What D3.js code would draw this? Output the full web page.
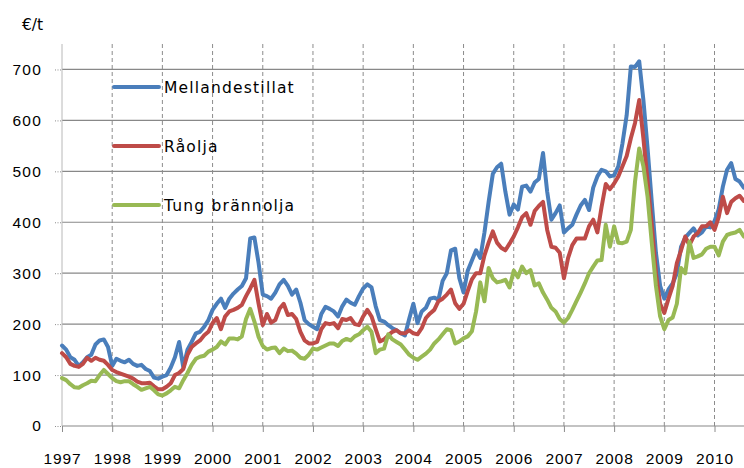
<!DOCTYPE html>
<html>
<head>
<meta charset="utf-8">
<script src="https://cdn.jsdelivr.net/npm/d3@7"></script>
<style>
  body { margin: 0; background: #fff; }
  svg { display: block; font-family: 'DejaVu Sans', sans-serif; }
</style>
</head>
<body>
<svg width="744" height="468"></svg>
<script>
const width = 744;
const height = 468;

// tick labels
const years = [1997, 1998, 1999, 2000, 2001, 2002, 2003, 2004, 2005, 2006, 2007, 2008, 2009, 2010];
const yTicks = [0, 100, 200, 300, 400, 500, 600, 700];

// monthly prices, €/t, Jan 1997 - Aug 2010
const mellandestillat = [
  158, 150, 135, 130, 118, 125, 135, 140, 160, 168, 170, 155,
  118, 132, 128, 125, 130, 122, 118, 120, 112, 108, 95, 93,
  97, 100, 115, 135, 165, 115, 150, 165, 182, 185, 195, 208,
  228, 240, 250, 232, 250, 260, 268, 275, 290, 368, 370, 320,
  258, 255, 250, 262, 278, 287, 275, 258, 268, 242, 208, 200,
  195, 190, 220, 234, 230, 225, 215, 235, 248, 242, 238, 255,
  270, 278, 272, 235, 208, 205, 198, 192, 188, 182, 178, 210,
  240, 202, 225, 232, 250, 252, 248, 285, 300, 345, 348, 290,
  262, 305, 325, 345, 330, 380, 440, 495, 508, 515, 460, 415,
  435, 425, 470, 472, 460, 478, 485, 536, 460, 405, 418, 433,
  380, 388, 395, 415, 433, 444, 424, 468, 490, 503, 500, 490,
  492, 510, 555, 610, 706, 705, 716, 640, 545, 440, 340, 275,
  250, 268, 280, 300, 352, 370, 379, 388, 374, 380, 392, 390,
  402, 425, 470, 503, 516, 485, 480, 468
];
const raolja = [
  143, 135, 122, 118, 116, 122, 134, 128, 134, 130, 128, 120,
  110, 106, 103, 100, 97, 93, 87, 84, 84, 85, 78, 72,
  72, 77, 84, 100, 104, 112, 140, 155, 162, 168, 178, 185,
  202, 212, 190, 215, 225, 228, 232, 238, 255, 270, 287, 240,
  198, 220, 203, 208, 230, 240, 218, 220, 210, 185, 168, 162,
  162, 165, 190, 202, 200, 202, 192, 210, 208, 212, 200, 198,
  215, 228, 215, 190, 166, 170, 178, 185, 188, 182, 182, 188,
  182, 180, 192, 212, 221, 228, 245, 250, 258, 268, 241, 230,
  240, 265, 288, 300, 300, 335, 360, 382, 360, 350, 345, 358,
  372, 390, 410, 418, 395, 422, 432, 440, 385, 352, 350, 340,
  290, 330, 355, 368, 368, 368, 392, 405, 380, 430, 475, 465,
  476, 490, 510, 530, 565, 595, 640, 565, 480, 395, 300, 240,
  222, 250, 275, 320, 345, 372, 355, 372, 379, 392, 392, 400,
  385, 410, 450, 418, 440, 447, 452, 442
];
const tungBrannolja = [
  94, 90, 82, 76, 75, 80, 84, 89, 88, 100, 110, 102,
  94, 88, 86, 88, 88, 82, 77, 71, 74, 77, 70, 62,
  60, 64, 70, 77, 74, 90, 104, 120, 132, 136, 138, 146,
  150, 155, 166, 160, 172, 172, 170, 176, 210, 230, 205, 175,
  157, 150, 153, 154, 143, 152, 147, 148, 142, 134, 132, 140,
  152, 150, 154, 158, 162, 162, 157, 167, 171, 168, 176, 180,
  188, 195, 185, 143, 150, 152, 180, 170, 165, 160, 150, 140,
  134, 130, 136, 142, 150, 162, 170, 180, 190, 188, 162, 166,
  172, 176, 186, 225, 282, 245, 310, 290, 282, 284, 287, 272,
  305, 292, 313, 300, 306, 276, 280, 262, 248, 232, 225, 210,
  203, 212, 228, 245, 262, 280, 300, 313, 325, 326, 395, 352,
  392, 360, 359, 362, 385, 480, 545, 510, 450, 360, 275, 215,
  190, 208, 213, 240, 310, 300, 362, 330, 333, 337, 348, 352,
  352, 335, 362, 375, 378, 380, 385, 372
];

const seriesNames = ['Mellandestillat', 'Råolja', 'Tung brännolja'];
const seriesColors = ['#4a7ebb', '#be4b48', '#98b954'];
const seriesValues = [mellandestillat, raolja, tungBrannolja];

const svg = d3.select('svg');

const plotLeft = 62, plotRight = 744, plotTop = 44, plotBottom = 426;

const xScale = d3.scaleLinear().domain([1997, 2010]).range([plotLeft, 714.5]);
const yScale = d3.scaleLinear().domain([0, 750]).range([plotBottom, plotTop]);

// horizontal grid
svg.append('g')
   .selectAll('line')
   .data(yTicks)
   .enter().append('line')
     .attr('x1', plotLeft).attr('x2', plotRight)
     .attr('y1', d => yScale(d)).attr('y2', d => yScale(d))
     .attr('stroke', '#888').attr('stroke-width', 1.2);

// vertical dashed grid at each year
svg.append('g')
   .selectAll('line')
   .data(years.slice(1))
   .enter().append('line')
     .attr('x1', d => xScale(d)).attr('x2', d => xScale(d))
     .attr('y1', plotTop).attr('y2', plotBottom)
     .attr('stroke', '#8c8c8c').attr('stroke-dasharray', '4,3');

// y axis line
svg.append('line')
   .attr('x1', plotLeft).attr('x2', plotLeft).attr('y1', plotTop).attr('y2', plotBottom)
   .attr('stroke', '#b8b8b8');

// axes
const xAxis = d3.axisBottom(xScale).tickValues(years).tickFormat(d3.format('d'))
                .tickSize(6).tickSizeOuter(0).tickPadding(21);
const gx = svg.append('g').attr('transform', `translate(0, ${plotBottom})`).call(xAxis);
gx.select('.domain').remove();
gx.selectAll('.tick line').attr('stroke', '#8c8c8c');
gx.selectAll('text').style('font-size', '15.5px').style('letter-spacing', '0.9px').attr('fill', '#000');

const yAxis = d3.axisLeft(yScale).tickValues(yTicks).tickSize(6).tickPadding(13);
const gy = svg.append('g').attr('transform', `translate(${plotLeft - 1}, 0)`).call(yAxis);
gy.select('.domain').remove();
gy.selectAll('.tick line').attr('stroke', '#8c8c8c').attr('stroke-dasharray', '1,1.5');
gy.selectAll('text').style('font-size', '15.5px').style('letter-spacing', '1.2px').attr('fill', '#000');

svg.append('text').attr('x', 22).attr('y', 30)
   .style('font-size', '15.5px')
   .text('€/t');

// lines
const line = d3.line()
               .x((d, i) => xScale(1997 + i / 12))
               .y(d => yScale(d));

seriesValues.forEach((vals, k) => {
  svg.append('path')
     .datum(vals)
     .attr('fill', 'none')
     .attr('stroke', seriesColors[k])
     .attr('stroke-width', 4)
     .attr('stroke-linejoin', 'round')
     .attr('stroke-linecap', 'round')
     .attr('d', line);
});

// legend
const legendY = [87, 146, 205];
const legend = svg.append('g')
                  .selectAll('g')
                  .data(seriesNames)
                  .enter().append('g')
                    .attr('transform', (d, i) => `translate(114, ${legendY[i]})`);
legend.append('line')
      .attr('x1', 0).attr('x2', 45)
      .attr('stroke', (d, i) => seriesColors[i])
      .attr('stroke-width', 4)
      .attr('stroke-linecap', 'round');
legend.append('text')
      .attr('x', 50).attr('dy', '0.36em')
      .style('font-size', '15.5px')
      .style('letter-spacing', '1.2px')
      .text(d => d);
</script>
</body>
</html>
